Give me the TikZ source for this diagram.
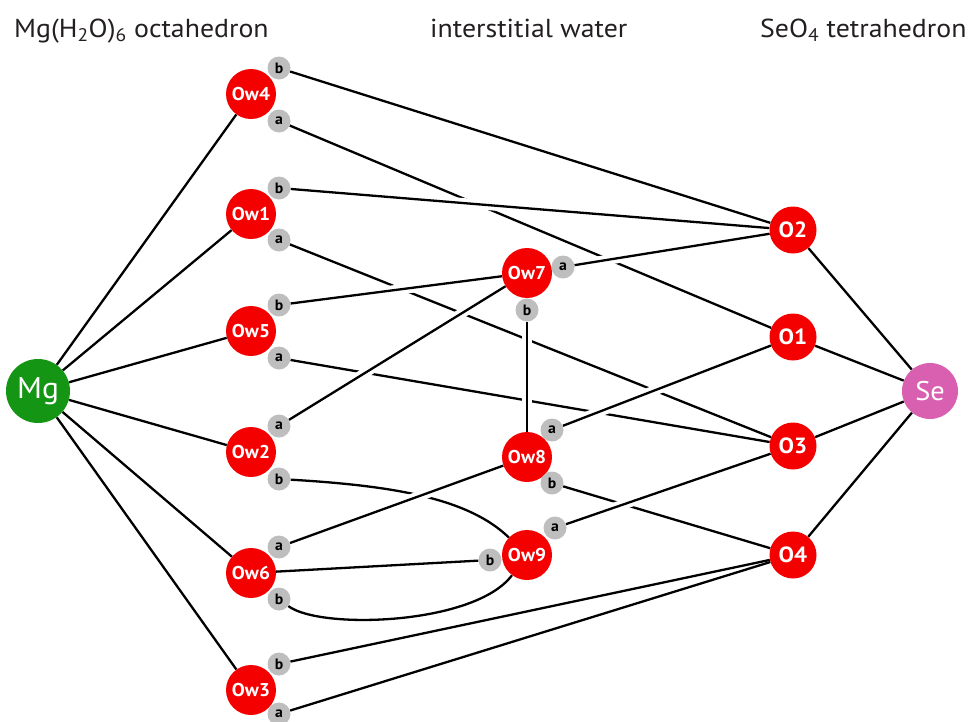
\documentclass[tikz,border=0pt]{standalone}
\usepackage{fontspec}
\setmainfont{PT Sans}
\newfontfamily\hdrfont[FakeStretch=1.07]{PT Sans}
\newfontfamily\nodefont[FakeStretch=1.05]{PT Sans}
\usetikzlibrary{backgrounds}
\definecolor{ored}{RGB}{245,0,0}
\definecolor{mggreen}{RGB}{20,150,20}
\definecolor{sepink}{RGB}{217,96,176}
\definecolor{lgrey}{RGB}{190,190,190}
\definecolor{hdrtext}{RGB}{35,31,32}
\begin{document}
\begin{tikzpicture}[x=1pt,y=-1pt,
  edge/.style={draw=black, line width=2.3pt},
  casing/.style={draw=white, line width=10pt, shorten <=14pt, shorten >=14pt},
  ow/.style={circle, fill=ored, minimum size=50pt, inner sep=0pt, text=white, font=\nodefont\fontsize{18.5}{18.5}\selectfont\bfseries},
  ox/.style={circle, fill=ored, minimum size=47pt, inner sep=0pt, text=white, font=\nodefont\fontsize{22}{22}\selectfont\bfseries},
  lab/.style={circle, fill=lgrey, minimum size=23pt, inner sep=0pt, text=black, font=\nodefont\fontsize{15}{15}\selectfont\bfseries},
  hdr/.style={anchor=base west, inner sep=0pt, text=hdrtext, font=\hdrfont\fontsize{26}{26}\selectfont},
]
\useasboundingbox (0,0) rectangle (970,721);

% headers
\node[hdr] (h1) at (14,37) {Mg(H\textsubscript{2}O)\textsubscript{6} octahedron};
\node[hdr] (h2) at (430,37) {interstitial water};
\node[hdr] (h3) at (760,37) {SeO\textsubscript{4} tetrahedron};

% central atoms
\node[circle, fill=mggreen, minimum size=64pt, inner sep=0pt, text=white, font=\nodefont\fontsize{30}{30}\selectfont] (Mg) at (38,391) {Mg};
\node[circle, fill=sepink, minimum size=56pt, inner sep=0pt, text=white, font=\nodefont\fontsize{27}{27}\selectfont] (Se) at (930,391) {Se};

% octahedral waters
\node[ow] (Ow4) at (251,94) {Ow4};
\node[lab] (Ow4b) at (279,68) {b};
\node[lab] (Ow4a) at (279,121) {a};
\node[ow] (Ow1) at (251,214) {Ow1};
\node[lab] (Ow1b) at (279,188) {b};
\node[lab] (Ow1a) at (279,240) {a};
\node[ow] (Ow5) at (251,331) {Ow5};
\node[lab] (Ow5b) at (279,305) {b};
\node[lab] (Ow5a) at (279,358) {a};
\node[ow] (Ow2) at (251,452) {Ow2};
\node[lab] (Ow2a) at (279,426) {a};
\node[lab] (Ow2b) at (279,479) {b};
\node[ow] (Ow6) at (251,573) {Ow6};
\node[lab] (Ow6a) at (279,547) {a};
\node[lab] (Ow6b) at (279,599) {b};
\node[ow] (Ow3) at (251,690) {Ow3};
\node[lab] (Ow3b) at (279,664) {b};
\node[lab] (Ow3a) at (279,714) {a};

% interstitial waters
\node[ow] (Ow7) at (527,273) {Ow7};
\node[lab] (Ow7a) at (563,267) {a};
\node[lab] (Ow7b) at (527,310) {b};
\node[ow] (Ow8) at (527,457) {Ow8};
\node[lab] (Ow8a) at (552,430) {a};
\node[lab] (Ow8b) at (552,483) {b};
\node[ow] (Ow9) at (527,555) {Ow9};
\node[lab] (Ow9a) at (555,528) {a};
\node[lab] (Ow9b) at (490,560) {b};

% selenate oxygens
\node[ox] (O2) at (793,230) {O2};
\node[ox] (O1) at (793,337) {O1};
\node[ox] (O3) at (793,446) {O3};
\node[ox] (O4) at (793,555) {O4};

\begin{pgfonlayer}{background}
% lines passing underneath
\draw[edge] (Ow4a) -- (O1);
\draw[edge] (Ow1a) -- (O3);
\draw[edge] (Ow5a) -- (O3);
\draw[edge] (Ow8b) -- (O4);
\draw[edge] (Ow2b) .. controls (400,486) and (470,500) .. (Ow9);
% white gaps at crossings
\draw[casing] (Ow1b) -- (O2);
\draw[casing] (Ow7a) -- (O2);
\draw[casing] (Ow5b) -- (Ow7);
\draw[casing] (Ow2a) -- (Ow7);
\draw[casing, shorten <=2pt, shorten >=2pt] (Ow7b) -- (Ow8);
\draw[casing] (Ow8a) -- (O1);
\draw[casing] (Ow9a) -- (O3);
\draw[casing] (Ow6a) -- (Ow8);
% Mg coordination
\draw[edge] (Mg) -- (Ow4);
\draw[edge] (Mg) -- (Ow1);
\draw[edge] (Mg) -- (Ow5);
\draw[edge] (Mg) -- (Ow2);
\draw[edge] (Mg) -- (Ow6);
\draw[edge] (Mg) -- (Ow3);
% Se coordination
\draw[edge] (Se) -- (O2);
\draw[edge] (Se) -- (O1);
\draw[edge] (Se) -- (O3);
\draw[edge] (Se) -- (O4);
% hydrogen bonds
\draw[edge] (Ow4b) -- (O2);
\draw[edge] (Ow1b) -- (O2);
\draw[edge] (Ow7a) -- (O2);
\draw[edge] (Ow5b) -- (Ow7);
\draw[edge] (Ow2a) -- (Ow7);
\draw[edge] (Ow7b) -- (Ow8);
\draw[edge] (Ow8a) -- (O1);
\draw[edge] (Ow9a) -- (O3);
\draw[edge] (Ow6a) -- (Ow8);
\draw[edge] (Ow6) -- (Ow9b);
\draw[edge] (Ow6b) .. controls (320,630) and (475,625) .. (Ow9);
\draw[edge] (Ow3b) -- (O4);
\draw[edge] (Ow3a) -- (O4);
\end{pgfonlayer}
\end{tikzpicture}
\end{document}
